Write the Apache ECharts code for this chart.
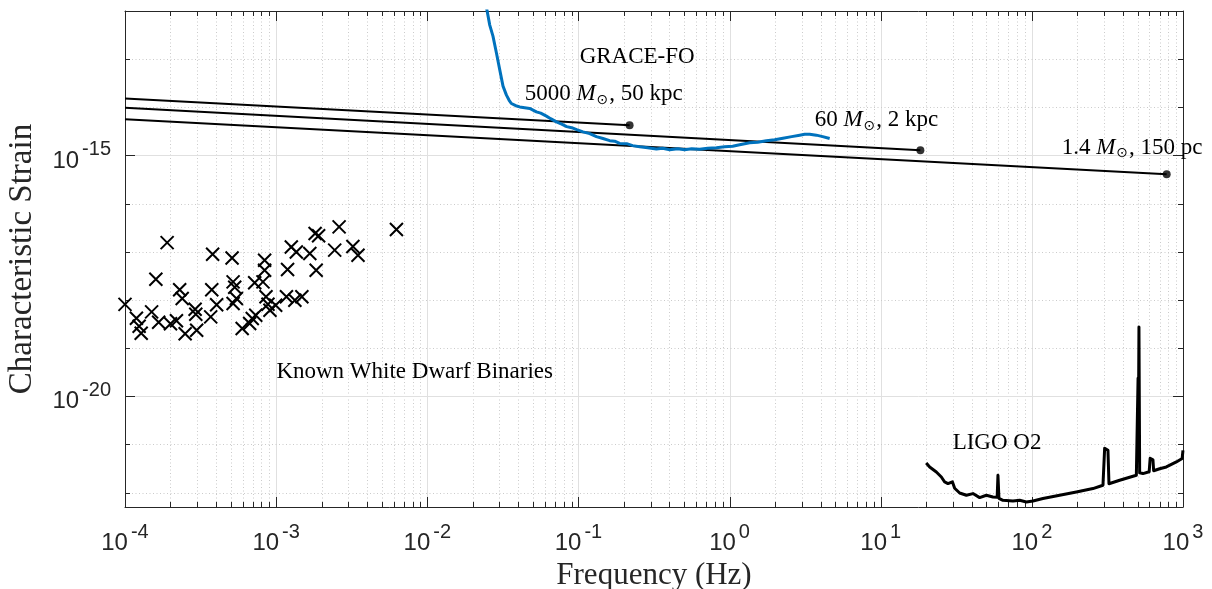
<!DOCTYPE html>
<html><head><meta charset="utf-8">
<script src="https://cdn.jsdelivr.net/npm/echarts@6/dist/echarts.min.js"></script>
<style>html,body{margin:0;padding:0;background:#fff}#c{width:1212px;height:589px}</style>
</head><body><div id="c"></div><script>
// ---------- data ----------
const xMajorTicks = [1e-4, 1e-3, 1e-2, 1e-1, 1, 10, 100, 1000];
const yMajorTicks = [1e-20, 1e-15];
const yMinorTicks = [1e-22, 1e-21, 1e-19, 1e-18, 1e-17, 1e-16, 1e-14, 1e-13];
const xMinorTicks = [];
for (let d = -4; d < 3; d++) for (let k = 2; k <= 9; k++) xMinorTicks.push(k * Math.pow(10, d));

const wdFreq = [1.00e-4,1.90e-4,1.60e-4,1.19e-4,1.24e-4,1.28e-4,1.50e-4,1.67e-4,2.00e-4,2.19e-4,
  2.30e-4,2.39e-4,2.50e-4,2.91e-4,2.94e-4,2.98e-4,3.80e-4,3.75e-4,4.04e-4,3.69e-4,
  5.11e-4,5.19e-4,5.32e-4,5.46e-4,5.19e-4,5.96e-4,6.95e-4,7.33e-4,6.68e-4,8.39e-4,
  8.39e-4,7.21e-4,8.18e-4,8.57e-4,8.83e-4,9.10e-4,9.93e-4,1.19e-3,1.26e-3,1.36e-3,
  1.17e-3,1.33e-3,1.48e-3,1.67e-3,1.84e-3,1.81e-3,1.91e-3,2.61e-3,2.44e-3,3.22e-3,
  3.48e-3,6.25e-3];
const wdStrain = [8.1e-19,1.55e-17,2.69e-18,4.15e-19,2.84e-19,2.04e-19,5.64e-19,3.44e-19,3.21e-19,3.70e-19,
  1.63e-18,1.07e-18,1.99e-19,6.41e-19,5.05e-19,2.35e-19,8.91e-18,1.63e-18,7.96e-19,4.44e-19,
  7.43e-18,2.37e-18,1.84e-18,1.07e-18,8.43e-19,2.55e-19,4.11e-19,4.82e-19,3.24e-19,6.68e-18,
  4.14e-18,2.28e-18,2.37e-18,1.16e-18,8.15e-19,6.11e-19,7.76e-19,4.29e-18,1.26e-17,9.93e-18,
  1.16e-18,9.87e-19,1.16e-18,9.21e-18,4.14e-18,2.40e-17,2.16e-17,3.29e-17,1.08e-17,1.29e-17,
  8.49e-18,2.90e-17];

// chirp tracks: start at 1e-4 Hz, end (merger) point
const chirpStartFreq = [1e-4, 1e-4, 1e-4];
const chirpStartStrain = [1.528e-14, 9.75e-15, 5.675e-15];
const chirpEndFreq = [0.218, 18.3, 780];
const chirpEndStrain = [4.256e-15, 1.288e-15, 4.093e-16];

const graceFreq = [0.02427,0.0259,0.0272,0.0287,0.0301,0.0317,0.0334,0.0348,0.0360,0.0385,0.0409,
  0.0441,0.0476,0.0527,0.0563,0.0614,0.0655,0.0715,0.0775,0.0836,0.0902,
  0.0974,0.1072,0.1187,0.1315,0.1453,0.161,0.1737,0.1875,0.2086,0.2285,
  0.2542,0.2872,0.3279,0.3609,0.4015,0.4535,0.5047,0.5615,0.634,0.716,
  0.818,0.928,1.048,1.166,1.358,1.534,1.752,1.988,2.256,2.576,
  2.909,3.14,3.388,3.752,4.13,4.595];
const graceStrain = [1.528e-12,5.09e-13,3.01e-13,1.33e-13,6.21e-14,2.75e-14,1.79e-14,1.40e-14,1.20e-14,1.08e-14,1.02e-14,
  9.84e-15,9.47e-15,8.05e-15,7.56e-15,6.55e-15,5.81e-15,4.99e-15,4.47e-15,3.97e-15,3.78e-15,
  3.44e-15,3.09e-15,2.84e-15,2.46e-15,2.25e-15,2.03e-15,1.98e-15,1.78e-15,1.76e-15,1.60e-15,
  1.51e-15,1.452e-15,1.365e-15,1.418e-15,1.32e-15,1.385e-15,1.32e-15,1.385e-15,1.352e-15,1.418e-15,
  1.452e-15,1.523e-15,1.56e-15,1.676e-15,1.845e-15,1.89e-15,2.03e-15,2.13e-15,2.288e-15,2.46e-15,
  2.64e-15,2.77e-15,2.77e-15,2.64e-15,2.46e-15,2.25e-15];

const ligoFreq = [20.0,21.08,23.34,25.19,26.49,27.86,29.79,30.85,33.29,36.87,
  40.77,45.15,50.0,55.27,58.94,59.66,60.57,64.4,74.99,83.06,
  91.97,101.7,118.4,152.7,197.0,253.7,295.4,303.1,318.8,323.7,
  381,443.7,491.3,499.6,504.3,507.4,511.2,516.7,543.3,597.2,
  606.3,632.7,639.5,700.8,776.1,903.6,987.2,999.3];
const ligoStrain = [4.117e-22,3.40e-22,2.676e-22,2.107e-22,1.659e-22,1.536e-22,1.675e-22,1.227e-22,9.80e-23,8.78e-23,
  9.52e-23,7.86e-23,8.78e-23,8.09e-23,7.98e-23,2.286e-22,7.60e-23,6.91e-23,6.68e-23,6.91e-23,
  6.37e-23,6.68e-23,7.50e-23,8.78e-23,1.028e-22,1.21e-22,1.416e-22,8.31e-22,7.55e-22,1.521e-22,
  1.80e-22,2.077e-22,2.286e-22,2.34e-22,2.37e-20,3.17e-21,2.75e-19,2.576e-22,2.479e-22,2.70e-22,
  5.153e-22,4.797e-22,2.834e-22,3.12e-22,3.40e-22,4.318e-22,5.08e-22,7.55e-22];

// annotations: [freq, strain, text] (left-middle anchor)
const annotations = [
  [0.1019, 1.10e-13, '{t|GRACE-FO}'],
  [0.0441, 1.876e-14, '{t|5000 }{m|M}{o|⊙}{t|, 50 kpc}'],
  [3.656, 5.41e-15, '{t|60 }{m|M}{o|⊙}{t|, 2 kpc}'],
  [157.4, 1.45e-15, '{t|1.4 }{m|M}{o|⊙}{t|, 150 pc}'],
  [1.004e-3, 3.15e-20, '{t|Known White Dwarf Binaries}'],
  [29.92, 1.056e-21, '{t|LIGO O2}']
];

// ---------- chart ----------
const AX = '#262626';
const tickRich = {
  b: {fontFamily: 'Liberation Sans', fontSize: 24, color: AX, padding: [11, 0, 0, 0]},
  s: {fontFamily: 'Liberation Sans', fontSize: 20, color: AX, padding: [0, 0, 11, 3]}
};
const tickRichZ = {
  b: {fontFamily: 'Liberation Sans', fontSize: 24, fill: AX, padding: [11, 0, 0, 0]},
  s: {fontFamily: 'Liberation Sans', fontSize: 20, fill: AX, padding: [0, 0, 11, 3]}
};
function expLabel(v, step) {
  const e = Math.log10(v), r = Math.round(e);
  if (Math.abs(e - r) > 1e-6 || r % step !== 0) return '';
  return '{b|10}{s|' + r + '}';
}
const annRich = {
  t: {fontFamily: 'Liberation Serif', fontSize: 23, color: '#000'},
  m: {fontFamily: 'Liberation Serif', fontSize: 23, fontStyle: 'italic', color: '#000'},
  o: {fontFamily: 'DejaVu Sans', fontSize: 14, color: '#000', padding: [12, 1, 0, 1]}
};

const tickData = [];
xMajorTicks.slice(1, -1).forEach(v => tickData.push([v, 1e-15, 0]));
xMinorTicks.forEach(v => tickData.push([v, 1e-15, 1]));
yMajorTicks.forEach(v => tickData.push([1, v, 2]));
yMinorTicks.forEach(v => tickData.push([1, v, 3]));

function renderTick(params, api) {
  const cs = params.coordSys;
  const kind = api.value(2);
  const p = api.coord([api.value(0), api.value(1)]);
  const L = (kind === 0 || kind === 2) ? 10 : 5;
  const grid = (kind === 0 || kind === 2)
    ? {stroke: '#e0e0e0', lineWidth: 1}
    : {stroke: '#cbcbcb', lineWidth: 1, lineDash: [1, 2.5]};
  const tk = {stroke: AX, lineWidth: 1};
  const ch = [];
  if (kind < 2) {
    const x = Math.round(p[0]) + 0.5, y0 = cs.y, y1 = cs.y + cs.height;
    ch.push({type: 'line', shape: {x1: x, y1: y0, x2: x, y2: y1}, style: grid});
    ch.push({type: 'line', shape: {x1: x, y1: y1, x2: x, y2: y1 - L}, style: tk});
    ch.push({type: 'line', shape: {x1: x, y1: y0, x2: x, y2: y0 + L}, style: tk});
  } else {
    const y = Math.round(p[1]) + 0.5, x0 = cs.x, x1 = cs.x + cs.width;
    ch.push({type: 'line', shape: {x1: x0, y1: y, x2: x1, y2: y}, style: grid});
    ch.push({type: 'line', shape: {x1: x0, y1: y, x2: x0 + L, y2: y}, style: tk});
    ch.push({type: 'line', shape: {x1: x1, y1: y, x2: x1 - L, y2: y}, style: tk});
    if (kind === 2) {
      const t = expLabel(api.value(1), 5);
      ch.push({type: 'text', style: {text: t, rich: tickRichZ, x: x0 - 14, y: p[1],
        align: 'right', verticalAlign: 'middle'}});
    }
  }
  return {type: 'group', children: ch};
}

const chart = echarts.init(document.getElementById('c'), null, {renderer: 'canvas'});
const baseAxis = {
  type: 'log', logBase: 10,
  axisLine: {show: true, onZero: false, lineStyle: {color: AX, width: 1}},
  axisTick: {show: false}, minorTick: {show: false},
  splitLine: {show: false}, minorSplitLine: {show: false}
};
chart.setOption({
  animation: false,
  backgroundColor: '#fff',
  grid: {left: 125, top: 11, width: 1058, height: 496, containLabel: false, outerBoundsMode: 'none'},
  xAxis: [
    Object.assign({}, baseAxis, {
      min: 1e-4, max: 1e3, position: 'bottom',
      axisLabel: {show: true, margin: 13, formatter: v => expLabel(v, 1), rich: tickRich},
      name: 'Frequency (Hz)', nameLocation: 'middle', nameGap: 46,
      nameTextStyle: {fontFamily: 'Liberation Serif', fontSize: 31, color: AX}
    }),
    Object.assign({}, baseAxis, {min: 1e-4, max: 1e3, position: 'top', axisLabel: {show: false}})
  ],
  yAxis: [
    Object.assign({}, baseAxis, {
      min: Math.pow(10, -22.3), max: 1e-12, position: 'left',
      axisLabel: {show: false},
      name: 'Characteristic Strain', nameLocation: 'middle', nameGap: 86,
      nameTextStyle: {fontFamily: 'Liberation Serif', fontSize: 33, color: AX}
    }),
    Object.assign({}, baseAxis, {min: Math.pow(10, -22.3), max: 1e-12, position: 'right', axisLabel: {show: false}})
  ],
  series: [
    {type: 'custom', name: 'ticks', z: 1, silent: true, renderItem: renderTick, data: tickData,
      xAxisIndex: 0, yAxisIndex: 0},
    {type: 'scatter', name: 'Known WD binaries', z: 3, silent: true,
      symbol: 'path://M0,0L10,10M10,0L0,10', symbolSize: 13,
      itemStyle: {color: 'rgba(0,0,0,0)', borderColor: '#000', borderWidth: 2, opacity: 1},
      data: wdFreq.map((f, i) => [f, wdStrain[i]])},
    ...chirpStartFreq.map((f, i) => ({
      type: 'line', z: 4, silent: true, symbol: 'none',
      lineStyle: {color: '#000', width: 2},
      data: [[f, chirpStartStrain[i]], [chirpEndFreq[i], chirpEndStrain[i]]]
    })),
    {type: 'scatter', z: 5, silent: true, symbol: 'circle', symbolSize: 8,
      itemStyle: {color: '#000'},
      data: chirpEndFreq.map((f, i) => [f, chirpEndStrain[i]])},
    {type: 'line', name: 'GRACE-FO', z: 6, silent: true, symbol: 'none',
      lineStyle: {color: '#0072BD', width: 3, join: 'round'},
      data: graceFreq.map((f, i) => [f, graceStrain[i]])},
    {type: 'line', name: 'LIGO O2', z: 6, silent: true, symbol: 'none',
      lineStyle: {color: '#000', width: 3, join: 'round'},
      data: ligoFreq.map((f, i) => [f, ligoStrain[i]])},
    {type: 'scatter', z: 7, silent: true, symbol: 'circle', symbolSize: 0,
      itemStyle: {color: 'rgba(0,0,0,0)'},
      label: {show: true, position: 'right', distance: 0, color: '#000', opacity: 1,
        formatter: p => p.data[2], rich: annRich},
      data: annotations}
  ]
});
</script></body></html>
